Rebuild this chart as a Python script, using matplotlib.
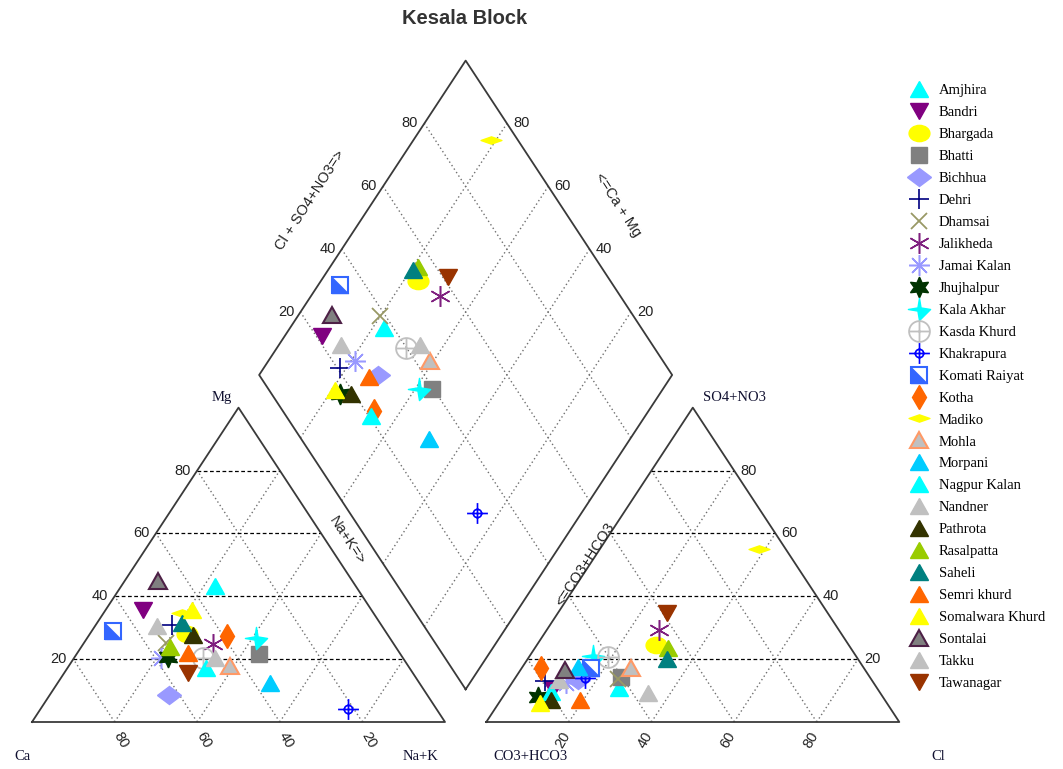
import numpy as np
import matplotlib.pyplot as plt
from matplotlib.path import Path
from matplotlib.markers import MarkerStyle
from matplotlib.transforms import Affine2D

# sample names (legend order)
samples = ['Amjhira', 'Bandri', 'Bhargada', 'Bhatti', 'Bichhua', 'Dehri', 'Dhamsai',
           'Jalikheda', 'Jamai Kalan', 'Jhujhalpur', 'Kala Akhar', 'Kasda Khurd',
           'Khakrapura', 'Komati Raiyat', 'Kotha', 'Madiko', 'Mohla', 'Morpani',
           'Nagpur Kalan', 'Nandner', 'Pathrota', 'Rasalpatta', 'Saheli',
           'Semri khurd', 'Somalwara Khurd', 'Sontalai', 'Takku', 'Tawanagar']

# cations, % meq (Ca = 100 - Mg - Na+K)
mg  = [43.2, 35.7, 28.0, 21.7, 8.6, 30.9, 25.0, 24.9, 20.3, 20.8, 26.7, 20.3, 4.0, 28.8,
       27.2, 34.7, 17.9, 12.5, 17.1, 30.4, 27.8, 24.0, 31.5, 21.9, 35.7, 44.8, 20.3, 15.5]
nak = [22.7, 9.0, 23.5, 44.2, 28.9, 18.4, 20.0, 31.3, 21.0, 22.6, 40.9, 31.3, 74.6, 5.3,
       33.5, 18.9, 39.0, 51.4, 33.7, 15.0, 25.2, 21.4, 20.5, 26.9, 20.8, 8.2, 34.2, 30.1]
# anions, % meq (CO3+HCO3 = 100 - Cl - SO4)
cl  = [26.9, 11.0, 28.9, 25.4, 15.5, 7.7, 25.0, 27.2, 13.0, 8.5, 15.3, 19.1, 16.9, 16.9,
       4.8, 38.6, 26.4, 13.4, 10.9, 11.0, 12.2, 32.2, 33.8, 19.3, 9.9, 10.7, 34.6, 26.5]
so4 = [10.7, 10.5, 24.6, 14.3, 13.3, 12.9, 13.7, 29.3, 12.5, 8.0, 21.1, 20.8, 13.9, 17.1,
       17.1, 54.9, 17.1, 17.6, 9.7, 13.4, 7.0, 23.5, 20.0, 7.0, 6.0, 16.6, 9.2, 34.7]

ticks = [20, 40, 60, 80]

S = np.sqrt(3) / 2
H = 100 * S
OFF = 110      # x offset of anion triangle
DY = 9         # height of diamond bottom


def cat_xy(m, n):
    m, n = np.asarray(m), np.asarray(n)
    return n + m / 2, m * S


def an_xy(s, c):
    s, c = np.asarray(s), np.asarray(c)
    return OFF + c + s / 2, s * S


def dia_xy(n, a):
    n, a = np.asarray(n), np.asarray(a)
    return 55 + 0.5 * n + 0.5 * a, DY + S * (100 - n + a)


fig = plt.figure(figsize=(10.63, 7.69), dpi=100)
ax = fig.add_axes([0, 0, 1, 1])
ax.set_xlim(-32 / 4.13, (1063 - 32) / 4.13)
ax.set_ylim((722 - 769) / 3.63, 722 / 3.63)
ax.axis('off')

frame = dict(color='#3a3a3a', lw=1.3, zorder=2)
dash = dict(color='black', lw=0.9, ls=(0, (3, 2)), zorder=1)
dot = dict(color='#707070', lw=1.0, ls=(0, (1, 2)), zorder=1)
num = dict(fontsize=10.5, family='Liberation Sans', color='#222222')
ser = dict(fontsize=10.5, family='Liberation Serif', color='#101030')

# cation triangle
ax.plot([0, 100, 50, 0], [0, 0, H, 0], **frame)
for k in ticks:
    ax.plot([k / 2, 100 - k / 2], [k * S, k * S], **dash)
    ax.plot([k, k + (100 - k) / 2], [0, (100 - k) * S], **dot)
    ax.plot([100 - k, (100 - k) / 2], [0, (100 - k) * S], **dot)
    ax.text(k / 2 - 1.5, k * S, str(k), ha='right', va='center', **num)
    ax.text(k + 1.5, -5, str(100 - k), ha='center', va='center', rotation=-60, **num)

# anion triangle
ax.plot([OFF, OFF + 100, OFF + 50, OFF], [0, 0, H, 0], **frame)
for k in ticks:
    ax.plot([OFF + k / 2, OFF + 100 - k / 2], [k * S, k * S], **dash)
    ax.plot([OFF + k, OFF + k + (100 - k) / 2], [0, (100 - k) * S], **dot)
    ax.plot([OFF + 100 - k, OFF + (100 - k) / 2], [0, (100 - k) * S], **dot)
    ax.text(OFF + 100 - k / 2 + 1.5, k * S, str(k), ha='left', va='center', **num)
    ax.text(OFF + k - 1.5, -5, str(k), ha='center', va='center', rotation=60, **num)

# diamond
bx, by = dia_xy([100, 100, 0, 0, 100], [0, 100, 100, 0, 0])
ax.plot(bx, by, **frame)
for k in ticks:
    x, y = dia_xy([100, 0], [k, k])
    ax.plot(x, y, **dot)
    x, y = dia_xy([k, k], [0, 100])
    ax.plot(x, y, **dot)
    x, y = dia_xy(0, k)
    ax.text(x - 1.5, y, str(k), ha='right', va='center', **num)
    x, y = dia_xy(100 - k, 100)
    ax.text(x + 1.5, y, str(k), ha='left', va='center', **num)

edge = dict(fontsize=10.5, family='Liberation Sans', color='#222222',
            ha='center', va='center', rotation_mode='anchor')
ax.text(67.3, 143.8, 'Cl + SO4+NO3=>', rotation=57, **edge)
ax.text(141.9, 142.4, '<=Ca + Mg', rotation=-57, **edge)
ax.text(76.3, 50.1, 'Na+K=>', rotation=-57, **edge)
ax.text(133.9, 43.3, '<=CO3+HCO3', rotation=57, **edge)

ax.text(46, 89.5, 'Mg', ha='center', va='center', **ser)
ax.text(-2.4, -9.6, 'Ca', ha='center', va='center', **ser)
ax.text(94, -9.6, 'Na+K', ha='center', va='center', **ser)
ax.text(120.6, -9.6, 'CO3+HCO3', ha='center', va='center', **ser)
ax.text(219.4, -9.6, 'Cl', ha='center', va='center', **ser)
ax.text(170.2, 89.5, 'SO4+NO3', ha='center', va='center', **ser)

fig.text(465 / 1063, 1 - 19 / 769, 'Kesala Block', ha='center', va='center',
         fontsize=14.5, fontweight='bold', family='Liberation Sans', color='#333333')

# marker shapes
squash = Affine2D().scale(1, 0.85)
tri_up = MarkerStyle('^', transform=squash)
tri_dn = MarkerStyle('v', transform=squash)
ellipse = MarkerStyle('o', transform=Affine2D().scale(1, 0.78))
dmd = MarkerStyle('D', transform=Affine2D().scale(1, 0.75))
flat_dmd = Path([(-1, 0), (0, 0.35), (1, 0), (0, -0.35), (-1, 0)],
                [Path.MOVETO, Path.LINETO, Path.LINETO, Path.LINETO, Path.CLOSEPOLY])
ang = np.arange(8) * np.pi / 4
rad = np.where(np.arange(8) % 2 == 0, 1.0, 0.2)
sparkle = Path(np.c_[rad * np.cos(ang), rad * np.sin(ang)], closed=True)
circ_cross = Path.make_compound_path(Path.unit_circle(),
                                     Path([(-1, 0), (1, 0)]), Path([(0, -1), (0, 1)]))
plus_circ = Path.make_compound_path(Path.circle((0, 0), 0.4),
                                    Path([(-1, 0), (1, 0)]), Path([(0, -1), (0, 1)]))
half_sq = Path([(-1, -1), (-1, 1), (1, -1), (-1, -1)],
               [Path.MOVETO, Path.LINETO, Path.LINETO, Path.CLOSEPOLY])

styles = {
    'Amjhira': dict(marker=tri_up, mfc='#00FFFF', mec='#00FFFF', ms=13),
    'Bandri': dict(marker=tri_dn, mfc='#800080', mec='#800080', ms=13),
    'Bhargada': dict(marker=ellipse, mfc='#FFFF00', mec='#FFFF00', ms=15),
    'Bhatti': dict(marker='s', mfc='#808080', mec='#808080', ms=12),
    'Bichhua': dict(marker=dmd, mfc='#9999FF', mec='#9999FF', ms=12),
    'Dehri': dict(marker='+', mfc='none', mec='#000080', ms=15, mew=1.2),
    'Dhamsai': dict(marker='x', mfc='none', mec='#999966', ms=11, mew=1.3),
    'Jalikheda': dict(marker=(6, 2, 0), mfc='none', mec='#7F1F7F', ms=15, mew=1.1),
    'Jamai Kalan': dict(marker=(8, 2, 0), mfc='none', mec='#9999FF', ms=15, mew=1.1),
    'Jhujhalpur': dict(marker=(6, 1, 0), mfc='#003300', mec='#003300', ms=15),
    'Kala Akhar': dict(marker=sparkle, mfc='#00FFFF', mec='#00FFFF', ms=16),
    'Kasda Khurd': dict(marker=circ_cross, mfc='none', mec='#C0C0C0', ms=15, mew=1.3),
    'Khakrapura': dict(marker=plus_circ, mfc='none', mec='#0000FF', ms=15, mew=1.2),
    'Kotha': dict(marker='d', mfc='#FF6600', mec='#FF6600', ms=12),
    'Madiko': dict(marker=flat_dmd, mfc='#FFFF00', mec='#FFFF00', ms=15),
    'Mohla': dict(marker=tri_up, mfc='#C0C0C0', mec='#FF9966', ms=13, mew=1.5),
    'Morpani': dict(marker=tri_up, mfc='#00CCFF', mec='#00CCFF', ms=13),
    'Nagpur Kalan': dict(marker=tri_up, mfc='#00FFFF', mec='#00FFFF', ms=13),
    'Nandner': dict(marker=tri_up, mfc='#C0C0C0', mec='#C0C0C0', ms=13),
    'Pathrota': dict(marker=tri_up, mfc='#333300', mec='#333300', ms=13),
    'Rasalpatta': dict(marker=tri_up, mfc='#99CC00', mec='#99CC00', ms=13),
    'Saheli': dict(marker=tri_up, mfc='#008080', mec='#008080', ms=13),
    'Semri khurd': dict(marker=tri_up, mfc='#FF6600', mec='#FF6600', ms=13),
    'Somalwara Khurd': dict(marker=tri_up, mfc='#FFFF00', mec='#FFFF00', ms=13),
    'Sontalai': dict(marker=tri_up, mfc='#808080', mec='#4D2046', ms=13, mew=1.5),
    'Takku': dict(marker=tri_up, mfc='#C0C0C0', mec='#C0C0C0', ms=13),
    'Tawanagar': dict(marker=tri_dn, mfc='#993300', mec='#993300', ms=13),
}

handles = []
for i, name in enumerate(samples):
    cx, cy = cat_xy(mg[i], nak[i])
    ax_, ay = an_xy(so4[i], cl[i])
    dx, dy = dia_xy(nak[i], cl[i] + so4[i])
    xs, ys = [cx, ax_, dx], [cy, ay, dy]
    if name == 'Komati Raiyat':
        h1, = ax.plot(xs, ys, ls='none', marker='s', mfc='white', mec='#3366FF',
                      ms=12, mew=1.5, zorder=3)
        h2, = ax.plot(xs, ys, ls='none', marker=half_sq, mfc='#3366FF', mec='#3366FF',
                      ms=12, mew=0.5, zorder=3)
        handles.append((h1, h2))
    else:
        h, = ax.plot(xs, ys, ls='none', zorder=3, **styles[name])
        handles.append(h)

ax.legend(handles, samples, loc='upper left', bbox_to_anchor=(907 / 1063, 1 - 84 / 769),
          bbox_transform=fig.transFigure, frameon=False, borderpad=0, borderaxespad=0,
          handlelength=1.6, handletextpad=0.6, labelspacing=0.6,
          prop={'family': 'Liberation Serif', 'size': 10.5})

fig.savefig('out.png', dpi=100)
